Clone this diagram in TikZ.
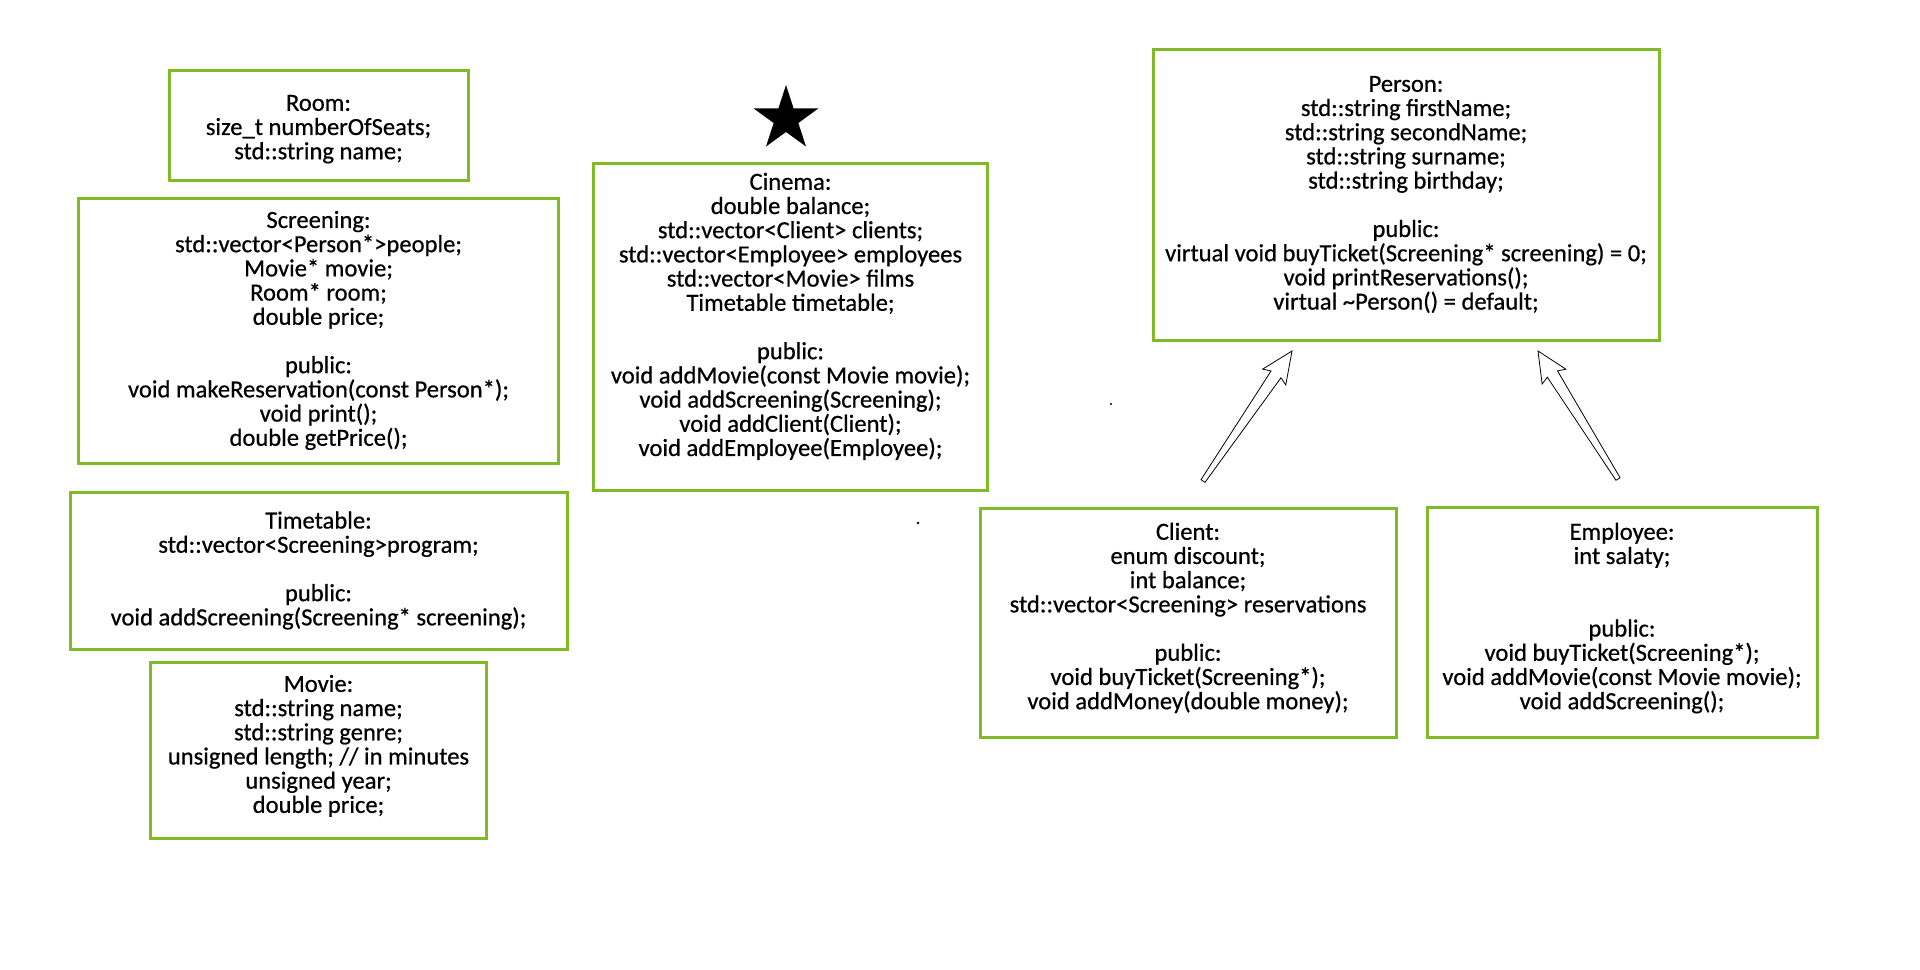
\documentclass[tikz,border=0pt]{standalone}
\usepackage{fontspec}
\setmainfont{Carlito}[FakeBold=0.6]
\usetikzlibrary{positioning, shapes.geometric, calc}
\definecolor{boxgreen}{RGB}{128,186,39}
\tikzset{
cls/.style={draw=boxgreen, line width=1.5pt, align=center, inner sep=0pt, font=\fontsize{12.3}{12.1}\selectfont}, % one box per class
starmark/.style={star, star points=5, star point ratio=2.618, fill=black, inner sep=0pt, minimum size=34pt}, % the black star over Cinema
hollow/.style={draw=black, fill=white, line width=0.4pt, line join=miter}, % the open inheritance arrows
}
\begin{document}
\begin{tikzpicture}[x=0.5pt, y=-0.5pt]
    \useasboundingbox[fill=white] (0,0) rectangle (1920,969);
    % left column
    \node[cls, minimum width=149.5pt, minimum height=55pt] (room) at (318.5,125) {\mbox{}\\[0pt] Room:\\ size\_t numberOfSeats;\\ std::string name;};
    \node[cls, minimum width=240pt, minimum height=132.5pt, below=7.5pt of room] (screening) {Screening:\\ std::vector<Person*>people;\\ Movie* movie;\\ Room* room;\\ double price;\\[12.1pt] public:\\ void makeReservation(const Person*);\\ void print();\\ double getPrice();};
    \node[cls, minimum width=248.5pt, minimum height=78.5pt, below=13pt of screening] (timetable) {Timetable:\\ std::vector<Screening>program;\\[12.1pt] public:\\ void addScreening(Screening* screening);};
    \node[cls, minimum width=168pt, minimum height=88pt, below=5pt of timetable] (movie) {Movie:\\ std::string name;\\ std::string genre;\\ unsigned length; // in minutes\\ unsigned year;\\ double price;\\[-6pt] \mbox{}};
    % middle
    \node[cls, minimum width=197pt, minimum height=163.5pt, right=16pt of screening, yshift=2pt] (cinema) {Cinema:\\ double balance;\\ std::vector<Client> clients;\\ std::vector<Employee> employees\\ std::vector<Movie> films\\ Timetable timetable;\\[12.1pt] public:\\ void addMovie(const Movie movie);\\ void addScreening(Screening);\\ void addClient(Client);\\ void addEmployee(Employee);\\ \mbox{}};
    \node[starmark] (mark) at (786,119) {};
    % right side
    \node[cls, minimum width=253pt, minimum height=145.5pt] (person) at (1406,194.5) {Person:\\ std::string firstName;\\ std::string secondName;\\ std::string surname;\\ std::string birthday;\\[12.1pt] public:\\ virtual void buyTicket(Screening* screening) = 0;\\ void printReservations();\\ virtual \textasciitilde Person() = default;};
    \node[cls, minimum width=208pt, minimum height=114.5pt] (client) at (1188,622.5) {Client:\\ enum discount;\\ int balance;\\ std::vector<Screening> reservations\\[12.1pt] public:\\ void buyTicket(Screening*);\\ void addMoney(double money);\\[-5.5pt] \mbox{}};
    \node[cls, minimum width=195pt, minimum height=115pt, right=14pt of client] (employee) {Employee:\\ int salaty;\\[24.2pt] public:\\ void buyTicket(Screening*);\\ void addMovie(const Movie movie);\\ void addScreening();\\[-5.5pt] \mbox{}};
    % inheritance arrows
    \coordinate (cltail) at (1203,481);
    \coordinate (cltip) at (1292,351);
    \coordinate (emtail) at (1618,479);
    \coordinate (emtip) at (1538,351);
    \foreach \a/\b in {cltail/cltip, emtail/emtip}
        \draw[hollow] ($(\a)!1.2pt!90:(\b)$) -- ($(\a)!0.82!(\b)!3pt!90:(\b)$) -- ($(\a)!0.8!(\b)!7pt!90:(\b)$) -- (\b)
        -- ($(\a)!0.8!(\b)!7pt!-90:(\b)$) -- ($(\a)!0.82!(\b)!3pt!-90:(\b)$) -- ($(\a)!1.2pt!-90:(\b)$) -- cycle;
    % stray dots
    \fill (1111,404) circle (0.6pt);
    \fill (918,523) circle (0.7pt);
\end{tikzpicture}
\end{document}
